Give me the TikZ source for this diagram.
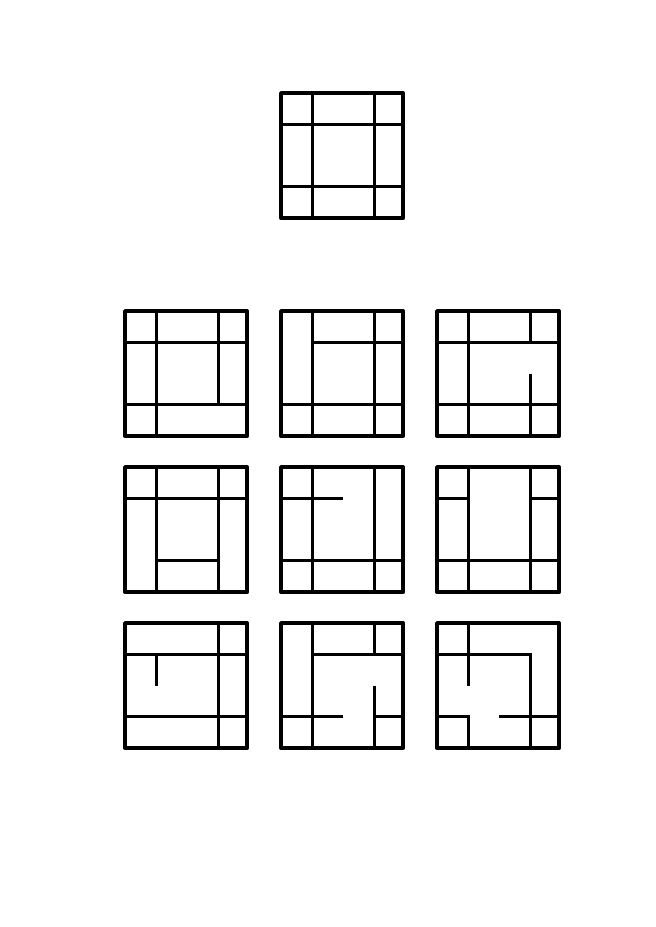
\documentclass[tikz,border=0pt]{standalone}
\tikzset{
  outerframe/.style={line width=3.8bp, line join=round},
  wall/.style={line width=3bp, line join=miter}
}
\newcommand\mazecell[3]{%
  \begin{scope}[shift={(#1bp,-#2bp)}, x=31bp, y=-31.3bp]
    \draw[wall] #3;
    \draw[outerframe] (0,0) rectangle (3.94,4);
  \end{scope}}
\begin{document}
\begin{tikzpicture}
  \fill[white] (0,0) rectangle (656bp,-927bp);
  \useasboundingbox (0,0) rectangle (656bp,-927bp);
  % top
  \mazecell{281}{93}{(0,1)--(3.94,1) (0,3)--(3.94,3) (1,0)--(1,4) (3,0)--(3,4)}
  % row 1
  \mazecell{125}{311}{(0,1)--(3.94,1) (0,3)--(3.94,3) (1,0)--(1,4) (3,0)--(3,3)}
  \mazecell{281}{311}{(1,1)--(3.94,1) (0,3)--(3.94,3) (1,0)--(1,4) (3,0)--(3,4)}
  \mazecell{437}{311}{(0,1)--(3.94,1) (0,3)--(3.94,3) (1,0)--(1,4) (3,0)--(3,1) (3,2)--(3,4)}
  % row 2
  \mazecell{125}{467}{(0,1)--(3.94,1) (1,3)--(3,3) (1,0)--(1,4) (3,0)--(3,4)}
  \mazecell{281}{467}{(0,1)--(2,1) (0,3)--(3.94,3) (1,0)--(1,4) (3,0)--(3,4)}
  \mazecell{437}{467}{(0,1)--(1,1) (3,1)--(3.94,1) (0,3)--(3.94,3) (1,0)--(1,4) (3,0)--(3,4)}
  % row 3
  \mazecell{125}{623}{(0,1)--(3.94,1) (0,3)--(3.94,3) (1,1)--(1,2) (3,0)--(3,4)}
  \mazecell{281}{623}{(1,1)--(3.94,1) (0,3)--(2,3) (3,3)--(3.94,3) (1,0)--(1,4) (3,0)--(3,1) (3,2)--(3,4)}
  \mazecell{437}{623}{(0,1)--(3,1)--(3,4) (0,3)--(1,3)--(1,4) (2,3)--(3.94,3) (1,0)--(1,2)}
\end{tikzpicture}
\end{document}
